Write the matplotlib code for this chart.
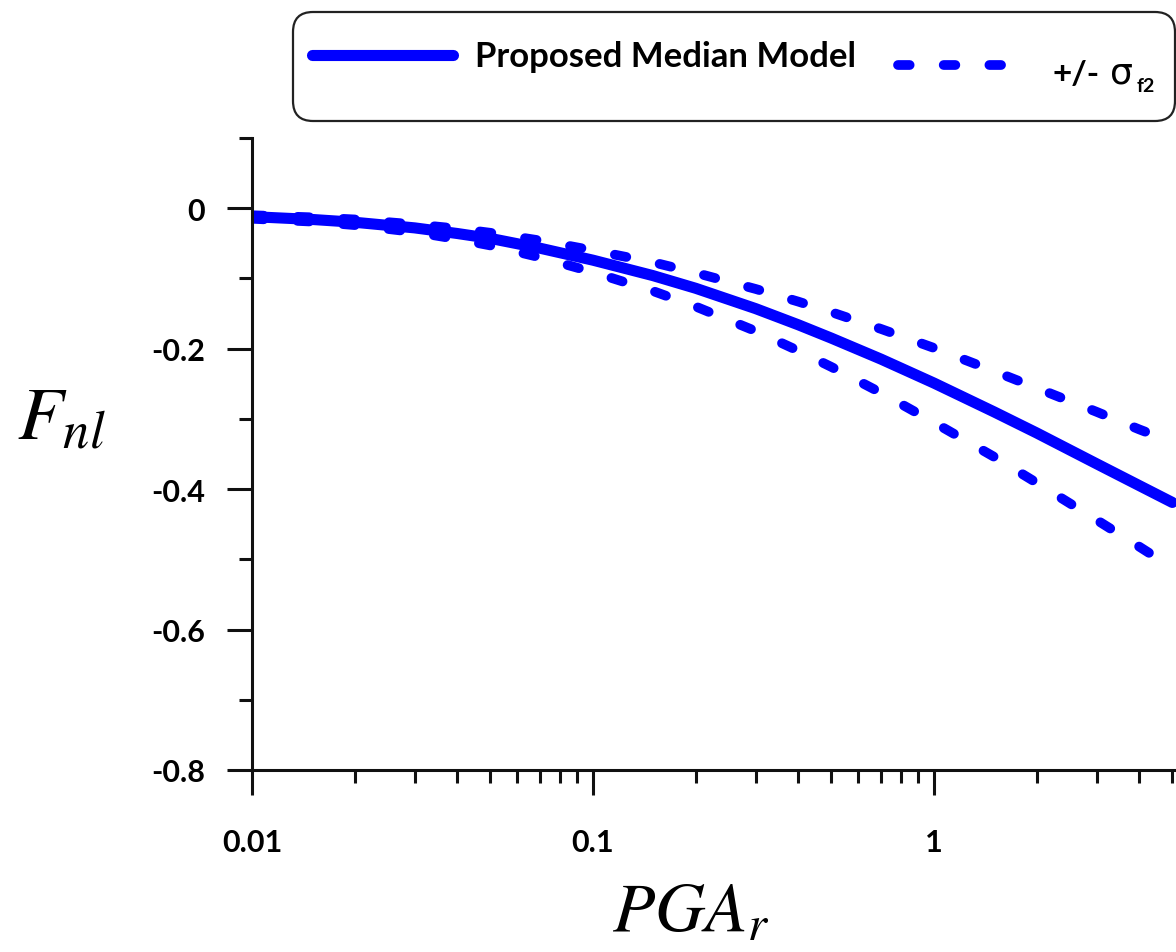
import matplotlib
matplotlib.use('Agg')
import matplotlib.pyplot as plt
from matplotlib.patches import FancyBboxPatch
from matplotlib.lines import Line2D
from matplotlib.ticker import FixedLocator, LogLocator, NullFormatter, FuncFormatter, MultipleLocator

plt.rcParams['mathtext.fontset'] = 'stix'
plt.rcParams['axes.unicode_minus'] = False

# PGA_r (g) and nonlinear site term
pga = [0.01, 0.015, 0.02, 0.03, 0.04, 0.05, 0.07, 0.1, 0.15, 0.2, 0.3, 0.4, 0.5, 0.7,
       1.0, 1.5, 2.0, 3.0, 4.0, 5.0]
fnl_median = [-0.012, -0.016, -0.020, -0.028, -0.036, -0.043, -0.057, -0.074, -0.096, -0.114,
              -0.143, -0.166, -0.185, -0.215, -0.249, -0.290, -0.320, -0.364, -0.395, -0.419]
fnl_upper = [-0.010, -0.013, -0.016, -0.023, -0.029, -0.035, -0.046, -0.060, -0.077, -0.092,
             -0.115, -0.133, -0.148, -0.172, -0.199, -0.232, -0.256, -0.290, -0.315, -0.333]
fnl_lower = [-0.015, -0.019, -0.024, -0.034, -0.044, -0.053, -0.070, -0.091, -0.118, -0.140,
             -0.175, -0.203, -0.226, -0.263, -0.305, -0.354, -0.391, -0.444, -0.482, -0.512]

xtick_vals = [0.01, 0.1, 1]
xtick_text = ['0.01', '0.1', '1']

blue = '#0000ff'
tick_font = {'family': 'Lato', 'weight': 'bold', 'size': 22}
dash = (0, (1.2, 3.5))

fig = plt.figure(figsize=(11.76, 9.53), dpi=100)
ax = fig.add_axes([252/1176, 182/953, 924/1176, 632/953])

ax.plot(pga, fnl_median, color=blue, lw=8, solid_capstyle='round')
for band in (fnl_upper, fnl_lower):
    ax.plot(pga, band, color=blue, lw=7, linestyle=dash, dash_capstyle='round')

ax.set_xscale('log')
ax.set_xlim(0.01, 5.125)
ax.set_ylim(-0.8, 0.1)

ax.xaxis.set_major_locator(FixedLocator(xtick_vals))
ax.set_xticklabels(xtick_text)
ax.xaxis.set_minor_locator(LogLocator(subs=range(2, 10)))
ax.xaxis.set_minor_formatter(NullFormatter())
ax.yaxis.set_major_locator(FixedLocator([0, -0.2, -0.4, -0.6, -0.8]))
ax.yaxis.set_minor_locator(MultipleLocator(0.1))
ax.yaxis.set_major_formatter(FuncFormatter(lambda v, p: '0' if abs(v) < 1e-9 else f'{v:.1f}'))

for s in ('top', 'right'):
    ax.spines[s].set_visible(False)
for s in ('left', 'bottom'):
    ax.spines[s].set_linewidth(2.2)
    ax.spines[s].set_color('#111111')

ax.tick_params(which='major', length=18, width=2.2, color='#111111', direction='out')
ax.tick_params(which='minor', length=9.5, width=2.2, color='#111111', direction='out')
ax.tick_params(axis='x', which='major', pad=24)
ax.tick_params(axis='y', which='major', pad=16)
for lab in ax.get_xticklabels() + ax.get_yticklabels():
    lab.set_fontproperties(tick_font)

fig.text(17/1176, 1 - 440/953, r'$F_{nl}$', fontsize=54, va='baseline', ha='left')
fig.text(612/1176, 1 - 932/953, r'$PGA_r$', fontsize=50, va='baseline', ha='left')

# legend box across the top
inch = fig.dpi_scale_trans
box = FancyBboxPatch((2.93, 9.53 - 1.22), 8.82, 1.09,
                     boxstyle='round,pad=0,rounding_size=0.2',
                     transform=inch, fill=False, ec='#222222', lw=1.6)
fig.add_artist(box)
fig.add_artist(Line2D([3.12, 4.53], [9.53 - 0.56] * 2, transform=inch,
                      color=blue, lw=8, solid_capstyle='round'))
fig.add_artist(Line2D([8.98, 10.05], [9.53 - 0.66] * 2, transform=inch,
                      color=blue, lw=7, linestyle=dash, dash_capstyle='round'))
fig.text(4.75 / 11.76, 1 - 0.57 / 9.53, 'Proposed Median Model', family='Lato',
         weight='bold', size=25, va='center', ha='left')
fig.text(10.53 / 11.76, 1 - 0.74 / 9.53, '+/-', family='Lato',
         weight='bold', size=24, va='center', ha='left')
fig.text(11.10 / 11.76, 1 - 0.83 / 9.53, 'σ', family='DejaVu Sans',
         size=26, va='baseline', ha='left')
fig.text(11.37 / 11.76, 1 - 0.92 / 9.53, 'f2', family='Lato',
         weight='bold', size=14, va='baseline', ha='left')

fig.savefig('out.png', dpi=100)
